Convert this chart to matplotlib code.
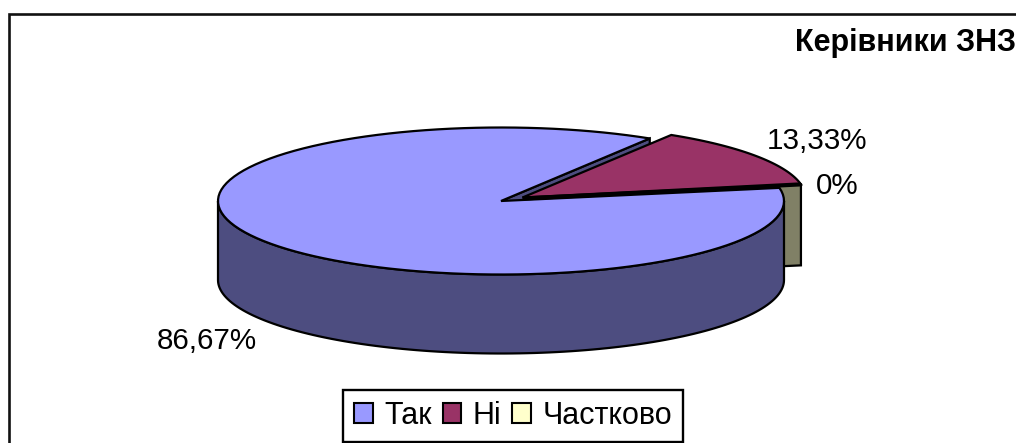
import numpy as np
import matplotlib
matplotlib.use("Agg")
import matplotlib.pyplot as plt
from matplotlib.patches import Patch, Polygon, Rectangle

plt.rcParams['font.family'] = ['Liberation Sans', 'DejaVu Sans']

# Data
categories = ["Так", "Ні", "Частково"]
values = [86.67, 13.33, 0]
value_labels = ["86,67%", "13,33%", "0%"]
title = "Керівники ЗНЗ"

top_colors = ['#9999FF', '#993366', '#FFFFCC']
wall_colors = ['#4D4D80', '#4D1A33', '#808066']

# pseudo 3D pie geometry, in pixels
cx, cy = 501, 201
rx, ry = 283, 73.5
depth = 79
explode_dx, explode_dy = 21.5, -3.5
start_angle = 10.3


def pt(angle, dx=0, dy=0, dz=0):
    a = np.radians(angle)
    return np.array([cx + dx + rx * np.cos(a), cy + dy - ry * np.sin(a) + dz])


def arc(a0, a1, dx=0, dy=0, dz=0, n=120):
    return np.array([pt(a, dx, dy, dz) for a in np.linspace(a0, a1, n)])


# slices run clockwise from the start angle
spans = np.array(values) / sum(values) * 360
ends = start_angle - np.cumsum(spans)
starts = ends + spans

fig = plt.figure(figsize=(10.16, 4.43), dpi=100)
ax = fig.add_axes([0, 0, 1, 1])
ax.set_xlim(0, 1016)
ax.set_ylim(443, 0)
ax.axis('off')

# chart frame, runs off the right and the bottom
ax.add_patch(Rectangle((8.5, 13.5), 1100, 500, fc='white', ec='#111111', lw=1.9))

lw = 1.6

# back wall of the empty slice
a = starts[2]
p = pt(a, explode_dx, explode_dy)
apex2 = np.array([cx + explode_dx, cy + explode_dy])
ax.add_patch(Polygon([apex2, p, p + [0, depth + 2], apex2 + [0, depth + 2]],
                     fc=wall_colors[2], ec='black', lw=lw, zorder=2))

# cut face of the big slice
p = pt(ends[0])
apex = np.array([cx, cy])
ax.add_patch(Polygon([apex, p, p + [0, depth], apex + [0, depth]],
                     fc=wall_colors[0], ec='black', lw=lw, zorder=3))

# outer wall of the big slice
upper = arc(180, 360)
lower = arc(360, 180, dz=depth)
ax.add_patch(Polygon(np.vstack([upper, lower]), fc=wall_colors[0], ec='black',
                     lw=lw, zorder=4))

# top of the big slice
ax.add_patch(Polygon(np.vstack([apex, arc(starts[0], ends[0])]), fc=top_colors[0],
                     ec='black', lw=lw, zorder=5))

# top of the exploded slice
ax.add_patch(Polygon(np.vstack([apex2, arc(starts[1], ends[1], explode_dx, explode_dy)]),
                     fc=top_colors[1], ec='black', lw=lw, zorder=6))

# the zero slice is only a thick line
p = pt(starts[2], explode_dx, explode_dy)
ax.plot([apex2[0], p[0]], [apex2[1] + 1, p[1]], color='black', lw=3, zorder=7,
        solid_capstyle='butt')

ax.text(207, 341, value_labels[0], fontsize=21.3, ha='center', va='center')
ax.text(817, 141, value_labels[1], fontsize=21.3, ha='center', va='center')
ax.text(837, 186, value_labels[2], fontsize=21.3, ha='center', va='center')
ax.text(1016, 43, title, fontsize=22, fontweight='bold', ha='right', va='center')

handles = [Patch(fc=c, ec='black', lw=1.5) for c in top_colors]
leg = ax.legend(handles, categories, loc='center', ncol=3, fontsize=22,
                bbox_to_anchor=(513 / 1016, 1 - 416 / 443), bbox_transform=fig.transFigure,
                fancybox=False, framealpha=1, edgecolor='black', borderpad=0.36,
                handlelength=0.62, handleheight=0.62, handletextpad=0.37,
                columnspacing=0.36, borderaxespad=0, labelspacing=0)
leg.get_frame().set_linewidth(1.7)
leg.set_zorder(10)

fig.savefig('out.png', dpi=100)
